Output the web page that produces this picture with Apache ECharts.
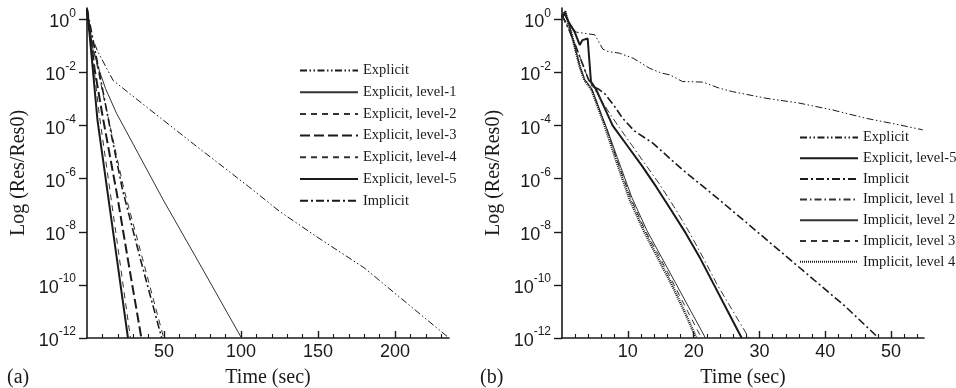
<!DOCTYPE html>
<html>
<head>
<meta charset="utf-8">
<script src="https://cdn.jsdelivr.net/npm/echarts@6/dist/echarts.min.js"></script>
<style>html,body{margin:0;padding:0;background:#fff}#c{width:956px;height:388px}</style>
</head>
<body>
<div id="c"></div>
<script>
// ---- Data: time (sec) and log10(Res/Res0) ----
// Panel (a)
var aT_explicit = [0, 1, 2, 7, 17, 40, 70, 105, 125, 150, 180, 210, 235];
var aL_explicit = [0.35, -0.3, -0.5, -1.21, -2.30, -3.36, -4.73, -6.30, -7.23, -8.22, -9.36, -10.8, -12];
var aT_lvl1 = [0, 1, 3.9, 8.2, 12, 19.1, 30, 49.4, 75, 100.3];
var aL_lvl1 = [0.4, -0.3, -1.15, -1.96, -2.6, -3.53, -4.7, -6.79, -9.4, -12];
var aT_lvl2 = [0, 2, 5, 10, 17, 24, 36, 49.8];
var aL_lvl2 = [0.4, -0.4, -1.3, -2.7, -4.55, -6.4, -9.0, -12];
var aT_lvl3 = [0, 2, 5, 10, 19.5, 27, 35.3];
var aL_lvl3 = [0.4, -0.5, -1.9, -3.6, -6.6, -9.2, -12];
var aT_lvl4 = [0, 2, 4, 8, 16, 22, 28.2];
var aL_lvl4 = [0.4, -0.6, -1.6, -3.6, -6.9, -9.4, -12];
var aT_lvl5 = [0, 1, 3.2, 6.8, 13, 19, 26.6];
var aL_lvl5 = [0.4, -0.15, -1.52, -3.79, -6.36, -8.85, -12];
var aT_impl = [0, 2, 5, 10, 16, 23, 35, 48.5];
var aL_impl = [0.4, -0.2, -1.1, -2.6, -4.4, -6.4, -9.1, -12];
// Panel (b)
var bT_explicit = [0, 0.9, 2.2, 5.0, 6.2, 7.0, 8.7, 10.8, 13.3, 15.1, 16.4, 18.3, 21.4, 23.9, 25.9, 31, 36, 41.1, 46.1, 51.2, 54.8];
var bL_explicit = [0.15, -0.2, -0.48, -0.58, -1.12, -1.21, -1.27, -1.46, -1.84, -2.02, -2.09, -2.34, -2.36, -2.59, -2.72, -2.97, -3.15, -3.41, -3.72, -3.97, -4.16];
var bT_lvl5 = [0, 0.4, 1.0, 1.9, 2.7, 3.1, 3.9, 4.4, 5.2, 6.5, 7.7, 9.9, 12.1, 14.3, 16.5, 18.8, 21, 23.1, 25.2, 27.3];
var bL_lvl5 = [0.05, 0.23, -0.1, -0.46, -0.96, -0.78, -0.72, -2.34, -2.65, -3.35, -4.0, -4.75, -5.5, -6.3, -7.15, -8.05, -9.0, -10.0, -11.0, -12];
var bT_impl = [0, 1, 2, 3, 4, 4.6, 5.5, 6.5, 8, 9.2, 11, 13.8, 18.3, 23.6, 28, 33, 38, 43, 48.1];
var bL_impl = [0.15, -0.35, -0.95, -1.6, -2.25, -2.5, -2.62, -2.8, -3.28, -3.72, -4.2, -4.66, -5.66, -6.73, -7.65, -8.7, -9.75, -10.8, -12];
var bT_i1 = [0, 1, 2, 3, 4, 4.6, 5.5, 7, 8.5, 10.5, 12.5, 14.8, 17, 19.3, 21.5, 23.6, 26, 28.4];
var bL_i1 = [0.15, -0.35, -0.95, -1.6, -2.25, -2.5, -2.85, -3.45, -4.0, -4.7, -5.4, -6.2, -7.05, -8.0, -9.0, -10.0, -11.0, -12];
var bT_i2 = [0, 0.5, 1.4, 2.7, 3.4, 4.5, 6.0, 6.8, 8.4, 10.6, 12.9, 15.1, 17.3, 19.6, 21.8];
var bL_i2 = [0.1, 0.3, -0.5, -1.75, -2.25, -2.6, -3.6, -4.1, -5.2, -6.7, -7.95, -8.95, -9.95, -11.0, -12];
var bT_i3 = [0, 0.5, 1.4, 2.7, 3.4, 4.5, 6.0, 6.8, 8.3, 10.5, 12.7, 14.9, 17.0, 19.1, 21.2];
var bL_i3 = [0.1, 0.3, -0.5, -1.76, -2.26, -2.62, -3.62, -4.12, -5.25, -6.75, -7.98, -8.98, -9.98, -11.0, -12];
var bT_i4 = [0, 0.5, 1.4, 2.7, 3.4, 4.5, 6.0, 6.7, 8.2, 10.3, 12.5, 14.6, 16.7, 18.6, 20.4];
var bL_i4 = [0.1, 0.3, -0.52, -1.78, -2.28, -2.65, -3.66, -4.16, -5.29, -6.79, -8.0, -9.0, -10.0, -11.0, -12];

// ---- Axis ticks / labels ----
var yTicks = [-12, -10, -8, -6, -4, -2, 0];
var aXLabels = [50, 100, 150, 200];
var aXMinor = [10, 20, 30, 40, 60, 70, 80, 90, 110, 120, 130, 140, 160, 170, 180, 190, 210, 220, 230];
var bXLabels = [10, 20, 30, 40, 50];
var bXMinor = [2, 4, 6, 8, 12, 14, 16, 18, 22, 24, 26, 28, 32, 34, 36, 38, 42, 44, 46, 48, 52, 54];
var legendA = ['Explicit', 'Explicit, level-1', 'Explicit, level-2', 'Explicit, level-3', 'Explicit, level-4', 'Explicit, level-5', 'Implicit'];
var legendB = ['Explicit', 'Explicit, level-5', 'Implicit', 'Implicit, level 1', 'Implicit, level 2', 'Implicit, level 3', 'Implicit, level 4'];

function pts(t, l) { return t.map(function (x, i) { return [x, l[i]]; }); }

var SANS = 'Liberation Sans', SERIF = 'Liberation Serif', INK = '#1a1a1a';
var DADD = [7, 2.5, 1.5, 2.5, 1.5, 2.5];
var DASHDOT = [8, 3, 2, 3];
var THIN_DASH = [6, 5];
var LONG_DASH = [10, 4];

function line(name, data, xi, yi, width, type, color) {
  return {
    type: 'line', name: name, data: data, xAxisIndex: xi, yAxisIndex: yi,
    symbol: 'none', showSymbol: false, smooth: false, animation: false, clip: true,
    lineStyle: { color: color || INK, width: width, type: type || 'solid' },
    itemStyle: { color: color || INK }
  };
}

function yAxis(gi) {
  return {
    type: 'value', gridIndex: gi, min: -12, max: 0.43, interval: 2,
    name: 'Log (Res/Res0)', nameLocation: 'middle', nameGap: 58,
    nameTextStyle: { fontFamily: SERIF, fontSize: 20, color: INK, padding: [0, 0, 0, 0] },
    axisLine: { show: true, onZero: false, lineStyle: { color: INK, width: 1.6 } },
    axisTick: { show: true, inside: false, length: 8, customValues: yTicks, lineStyle: { color: INK, width: 1.4 } },
    axisLabel: {
      customValues: yTicks, margin: 11, color: INK,
      formatter: function (v) { return '{b|10}{s|' + Math.round(v) + '}'; },
      rich: {
        b: { fontFamily: SANS, fontSize: 18, color: INK, lineHeight: 24, verticalAlign: 'bottom' },
        s: { fontFamily: SANS, fontSize: 12, color: INK, lineHeight: 24, verticalAlign: 'top' }
      }
    },
    splitLine: { show: false }
  };
}
function xMain(gi, max, interval, labels, name) {
  return {
    type: 'value', gridIndex: gi, min: 0, max: max, interval: interval, position: 'bottom',
    name: name, nameLocation: 'middle', nameGap: 30,
    nameTextStyle: { fontFamily: SERIF, fontSize: 20, color: INK },
    axisLine: { show: true, onZero: false, lineStyle: { color: INK, width: 1.6 } },
    axisTick: { show: true, inside: true, length: 7, customValues: labels, lineStyle: { color: INK, width: 1.4 } },
    axisLabel: { customValues: labels, fontFamily: SANS, fontSize: 18, color: INK, margin: 5 },
    splitLine: { show: false }
  };
}
function xMinor(gi, max, interval, minors) {
  return {
    type: 'value', gridIndex: gi, min: 0, max: max, interval: interval, position: 'bottom',
    axisLine: { show: false, onZero: false },
    axisTick: { show: true, inside: true, length: 4, customValues: minors, lineStyle: { color: INK, width: 1.1 } },
    axisLabel: { show: false },
    splitLine: { show: false }
  };
}
var legendCommon = {
  orient: 'vertical', itemWidth: 58, selectedMode: false,
  itemStyle: { opacity: 0 },
  textStyle: { fontFamily: SERIF, fontSize: 14.5, color: INK }
};

var option = {
  backgroundColor: '#fff',
  animation: false,
  grid: [
    { left: 87, top: 8, width: 362, height: 330, containLabel: false, outerBoundsMode: 'none' },
    { left: 562, top: 8, width: 362, height: 330, containLabel: false, outerBoundsMode: 'none' }
  ],
  title: [
    { text: '(a)', left: 2, top: 363, textStyle: { fontFamily: SERIF, fontSize: 20, fontWeight: 'normal', color: INK } },
    { text: '(b)', left: 475, top: 363, textStyle: { fontFamily: SERIF, fontSize: 20, fontWeight: 'normal', color: INK } }
  ],
  legend: [
    Object.assign({}, legendCommon, { data: legendA, left: 294, top: 58, itemHeight: 14, itemGap: 6.7 }),
    Object.assign({}, legendCommon, { data: legendB, left: 794, top: 125, itemHeight: 12, itemGap: 5.7 })
  ],
  xAxis: [
    xMain(0, 235, 10, aXLabels, 'Time (sec)'),
    xMinor(0, 235, 10, aXMinor),
    xMain(1, 55, 2, bXLabels, 'Time (sec)'),
    xMinor(1, 55, 2, bXMinor)
  ],
  yAxis: [yAxis(0), yAxis(1)],
  series: [
    line('Explicit', pts(aT_explicit, aL_explicit), 0, 0, 1, DADD),
    line('Explicit, level-1', pts(aT_lvl1, aL_lvl1), 0, 0, 1, 'solid', '#333'),
    line('Explicit, level-2', pts(aT_lvl2, aL_lvl2), 0, 0, 1, THIN_DASH, '#333'),
    line('Explicit, level-3', pts(aT_lvl3, aL_lvl3), 0, 0, 2, LONG_DASH),
    line('Explicit, level-4', pts(aT_lvl4, aL_lvl4), 0, 0, 1, THIN_DASH, '#333'),
    line('Explicit, level-5', pts(aT_lvl5, aL_lvl5), 0, 0, 2),
    line('Implicit', pts(aT_impl, aL_impl), 0, 0, 1.6, DASHDOT),

    line('Explicit', pts(bT_explicit, bL_explicit), 2, 1, 1, DADD),
    line('Explicit, level-5', pts(bT_lvl5, bL_lvl5), 2, 1, 2),
    line('Implicit', pts(bT_impl, bL_impl), 2, 1, 1.6, DASHDOT),
    line('Implicit, level 1', pts(bT_i1, bL_i1), 2, 1, 1, [7, 3, 1.5, 3], '#333'),
    line('Implicit, level 2', pts(bT_i2, bL_i2), 2, 1, 1, 'solid', '#333'),
    line('Implicit, level 3', pts(bT_i3, bL_i3), 2, 1, 1, THIN_DASH, '#333'),
    line('Implicit, level 4', pts(bT_i4, bL_i4), 2, 1, 2.5, [1, 1])
  ]
};
var chart = echarts.init(document.getElementById('c'), null, { renderer: 'canvas' });
chart.setOption(option);
</script>
</body>
</html>
